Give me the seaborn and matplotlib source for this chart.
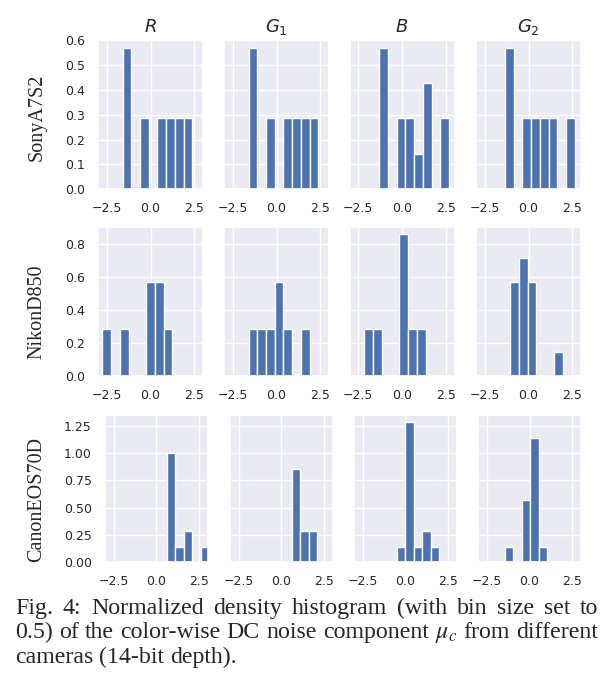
import matplotlib
matplotlib.use("Agg")
import matplotlib.pyplot as plt
import seaborn as sns
import numpy as np
import pandas as pd


sns.set_theme(style="darkgrid")
plt.rcParams["xtick.labelsize"] = 9
plt.rcParams["ytick.labelsize"] = 9

# column / row names
channels = ["$R$", "$G_1$", "$B$", "$G_2$"]
cameras = ["SonyA7S2", "NikonD850", "CanonEOS70D"]

# left edge of the first 0.5-wide bin, per camera (rows) and channel (cols)
bin_start = [
    [-1.60, -1.60, -1.30, -1.35],
    [-2.75, -1.60, -2.15, -1.05],
    [0.60, 0.60, -0.50, -1.45],
]

# normalized density of each consecutive bin
sony_density = [
    [0.571, 0, 0.286, 0, 0.286, 0.286, 0.286, 0.286],
    [0.571, 0, 0.286, 0, 0.286, 0.286, 0.286, 0.286],
    [0.571, 0, 0.286, 0.286, 0.143, 0.429, 0, 0.286],
    [0.571, 0, 0.286, 0.286, 0.286, 0.286, 0, 0.286],
]
nikon_density = [
    [0.286, 0, 0.286, 0, 0, 0.571, 0.571, 0.286],
    [0.286, 0.286, 0.286, 0.571, 0.286, 0, 0.286],
    [0.286, 0.286, 0, 0, 0.857, 0.286, 0.286],
    [0.571, 0.714, 0.571, 0, 0, 0.143],
]
canon_density = [
    [1.0, 0.143, 0.286, 0, 0.143],
    [0.857, 0.286, 0.286],
    [0.143, 1.286, 0.143, 0.286, 0.143],
    [0.143, 0, 0.571, 1.143, 0.143],
]
densities = [sony_density, nikon_density, canon_density]

binwidth = 0.5
xticks = [-2.5, 0.0, 2.5]
yticks = [
    [0.0, 0.1, 0.2, 0.3, 0.4, 0.5, 0.6],
    [0.0, 0.2, 0.4, 0.6, 0.8],
    [0.0, 0.25, 0.5, 0.75, 1.0, 1.25],
]
ytop = [0.6, 0.9, 1.35]
yfmt = ["%.1f", "%.1f", "%.2f"]

W, H = 607, 688
fig = plt.figure(figsize=(W / 100, H / 100), dpi=100)

# axes boxes in pixels: (top, bottom, lefts, width)
rows_px = [
    (40.3, 189.3, [98, 224, 349.5, 476], 105),
    (227.3, 376.0, [98, 224, 349.5, 476], 105),
    (415.0, 562.3, [105, 230, 354, 478.3], 102.5),
]
label_y = [117, 312, 499]

for i, (top, bot, lefts, wd) in enumerate(rows_px):
    first = None
    for j, left in enumerate(lefts):
        ax = fig.add_axes([left / W, 1 - bot / H, wd / W, (bot - top) / H],
                          sharey=first)
        dens = list(densities[i][j])
        start = bin_start[i][j]
        centers = [start + binwidth * (k + 0.5) for k in range(len(dens))]
        df = pd.DataFrame({"center": centers, "density": dens})
        sns.histplot(data=df, x="center", weights="density",
                     binwidth=binwidth,
                     binrange=(start, start + binwidth * len(dens) - 1e-9),
                     stat="count", color="#4C72B0", alpha=1,
                     edgecolor="white", linewidth=1, ax=ax)
        ax.set_xlim(-3, 3)
        ax.set_xticks(xticks)
        ax.set_xlabel("")
        ax.set_ylabel("")
        if first is None:
            first = ax
            ax.set_ylim(0, ytop[i])
            ax.set_yticks(yticks[i])
            ax.yaxis.set_major_formatter(matplotlib.ticker.FormatStrFormatter(yfmt[i]))
        else:
            ax.tick_params(labelleft=False)
        if i == 0:
            ax.set_title(channels[j], fontsize=13)
    fig.text(37 / W, 1 - label_y[i] / H, cameras[i], rotation=90,
             ha="center", va="center", family="Liberation Serif", fontsize=14.5)

# caption, justified like the source document
caption = [
    "Fig. 4: Normalized density histogram (with bin size set to",
    "0.5) of the color-wise DC noise component $\\mu_c$ from different",
    "cameras (14-bit depth).",
]
baselines = [614.3, 638.3, 662.7]
x0, x1 = 15, 598
fs = 17.2
renderer = fig.canvas.get_renderer()
for k, line in enumerate(caption):
    words = line.split(" ")
    texts = [fig.text(0, 1 - baselines[k] / H, w, ha="left", va="baseline",
                      family="Liberation Serif", fontsize=fs,
                      math_fontfamily="stix") for w in words]
    widths = [t.get_window_extent(renderer).width for t in texts]
    if k < 2:
        gap = (x1 - x0 - sum(widths)) / (len(words) - 1)
    else:
        gap = fs * 0.25 * 100 / 72
    x = x0
    for t, w in zip(texts, widths):
        t.set_x(x / W)
        x += w + gap

fig.savefig("out.png", dpi=100)
